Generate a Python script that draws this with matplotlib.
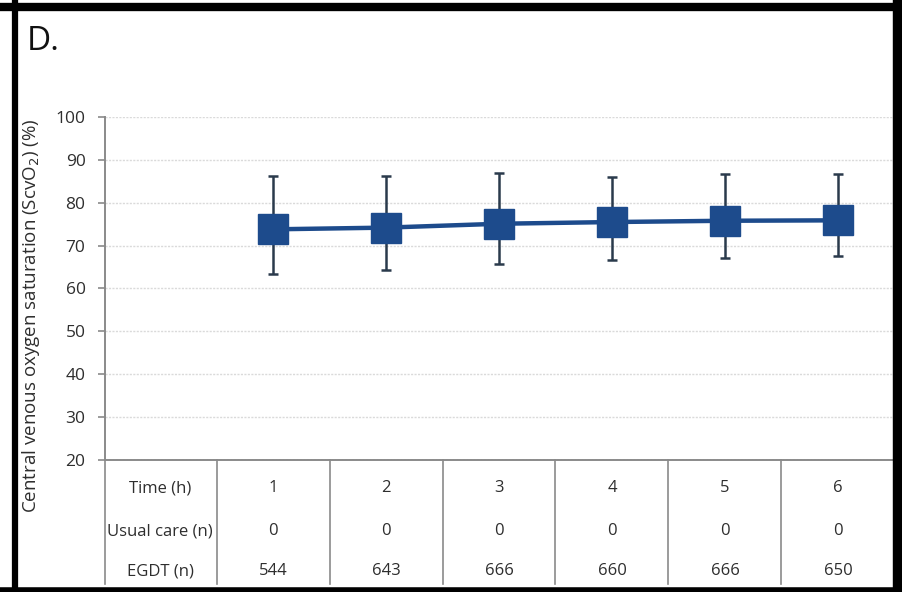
import matplotlib
matplotlib.use("Agg")
import matplotlib.pyplot as plt
from matplotlib.lines import Line2D
import matplotlib.transforms as mtransforms

plt.rcParams["font.family"] = ["Open Sans", "DejaVu Sans"]

# ScvO2 by hour, EGDT arm
hours = [1, 2, 3, 4, 5, 6]
scvo2_mean = [73.8, 74.2, 75.1, 75.5, 75.8, 75.9]
scvo2_upper = [86.3, 86.3, 87.0, 85.9, 86.7, 86.7]
scvo2_lower = [63.4, 64.2, 65.7, 66.6, 67.2, 67.6]

row_labels = ["Time (h)", "Usual care (n)", "EGDT (n)"]
usual_care_n = [0, 0, 0, 0, 0, 0]
egdt_n = [544, 643, 666, 660, 666, 650]

navy = "#1D4B8C"
axis_grey = "#8A8A8A"
text_col = "#2E2E2E"

fig = plt.figure(figsize=(9.03, 5.92), dpi=100)
W, H = 903, 592
ax = fig.add_axes([105 / W, 1 - 460 / H, (893 - 105) / W, (460 - 117) / H])

err_lo = [m - lo for m, lo in zip(scvo2_mean, scvo2_lower)]
err_hi = [hi - m for m, hi in zip(scvo2_mean, scvo2_upper)]
ax.errorbar(hours, scvo2_mean, yerr=[err_lo, err_hi], fmt="none",
            ecolor="#2A3A4C", elinewidth=1.8, capsize=3.5, capthick=1.8, zorder=3)
ax.plot(hours, scvo2_mean, "-", color=navy, lw=3.2, zorder=4)
ax.plot(hours, scvo2_mean, "s", color=navy, ms=21, mec=navy, zorder=5)

ax.set_xlim(-0.487, 6.487)
ax.set_ylim(20, 100)
ax.set_yticks(range(20, 101, 10))
ax.set_xticks([])
ax.yaxis.grid(True, color="#DADADA", lw=1.0, ls=(0, (1.5, 1)))
ax.set_axisbelow(True)
for side in ("top", "right"):
    ax.spines[side].set_visible(False)
for side in ("left", "bottom"):
    ax.spines[side].set_color(axis_grey)
    ax.spines[side].set_linewidth(1.4)
ax.tick_params(axis="y", length=5, width=1.2, color=axis_grey,
               labelsize=12.5, labelcolor=text_col, pad=9)

ax.set_ylabel("Central venous oxygen saturation (ScvO$_2$) (%)",
              fontsize=13.5, color=text_col)
ax.yaxis.set_label_coords(-0.080, 0.42)

# data table below the x-axis: rows in axes coords, columns in data coords
trans = mtransforms.blended_transform_factory(ax.transData, ax.transAxes)
row_y = [-0.082, -0.207, -0.324]
table_bottom = -0.362
rows = [[str(h) for h in hours],
        [str(v) for v in usual_care_n],
        [str(v) for v in egdt_n]]
for label, y, values in zip(row_labels, row_y, rows):
    ax.text(0.0, y, label, transform=trans, ha="center", va="center",
            fontsize=12, color=text_col, clip_on=False)
    for h, v in zip(hours, values):
        ax.text(h, y, v, transform=trans, ha="center", va="center",
                fontsize=12, color=text_col, clip_on=False)

for xb in [-0.487, 0.5, 1.5, 2.5, 3.5, 4.5, 5.5]:
    ax.add_line(Line2D([xb, xb], [0, table_bottom], transform=trans,
                       color=axis_grey, lw=1.2, clip_on=False))

# panel letter and frame
fig.text(27 / W, 1 - 42 / H, "D.", fontsize=24, color="#111111",
         ha="left", va="center")
frame = dict(color="black", solid_capstyle="butt", transform=fig.transFigure)
fig.add_artist(Line2D([0, 1], [1 - 7 / H, 1 - 7 / H], lw=6, **frame))
fig.add_artist(Line2D([15 / W, 15 / W], [0, 1], lw=4.5, **frame))
fig.add_artist(Line2D([898 / W, 898 / W], [0, 1], lw=7.5, **frame))
fig.add_artist(Line2D([0, 1], [2 / H, 2 / H], lw=4, **frame))

fig.savefig("out.png", dpi=100)
